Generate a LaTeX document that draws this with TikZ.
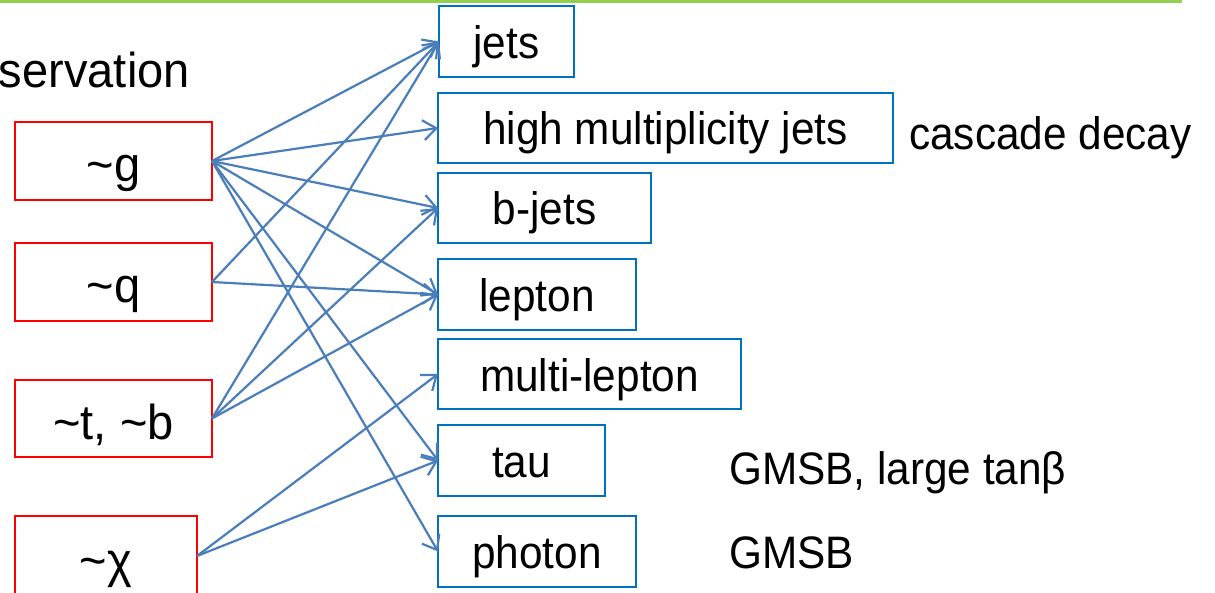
\documentclass[tikz,border=0pt]{standalone}
\usepackage{fontspec}
\setmainfont{Liberation Sans}
\newfontfamily\obsfont[FakeStretch=0.93]{Liberation Sans}
\newfontfamily\srcfont[FakeStretch=0.96]{Liberation Sans}
\usetikzlibrary{arrows.meta}
\definecolor{redbox}{RGB}{255,0,0}
\definecolor{bluebox}{RGB}{0,112,192}
\definecolor{arrowblue}{RGB}{74,126,187}
\definecolor{greenline}{RGB}{146,208,80}
\begin{document}
\begin{tikzpicture}[x=1pt,y=-1pt,
  srcbox/.style={draw=redbox, line width=2pt, inner sep=0pt, outer sep=0pt,
    font=\srcfont\fontsize{49}{58}\selectfont, text height=42pt, text depth=0pt,
    minimum width=197pt, minimum height=78pt},
  obsbox/.style={draw=bluebox, line width=2pt, inner sep=0pt, outer sep=0pt,
    font=\obsfont\fontsize{45.5}{54}\selectfont, text height=34pt, text depth=0pt,
    minimum height=70pt},
  note/.style={inner sep=0pt, font=\obsfont\fontsize{45.5}{54}\selectfont, anchor=base west},
  link/.style={draw=arrowblue, line width=2.2pt, -{Straight Barb[length=13pt,width=20pt]}},
]
\useasboundingbox (0,0) rectangle (1215,593);
\fill[white] (0,0) rectangle (1215,593);
% green rule
\coordinate (gl) at (0,1.2);
\coordinate (gr) at (1182,1.2);
\draw[greenline, line width=3pt] (gl) -- (gr);
% title fragment
\node[inner sep=0pt, anchor=base east, font=\srcfont\fontsize{49}{58}\selectfont] (title) at (190,88) {servation};
% source boxes
\node[srcbox] (g) at (113.5,161) {\char`\~g};
\node[srcbox] (q) at (113.5,282) {\char`\~q};
\node[srcbox, minimum height=77pt] (tb) at (113.5,418.5) {\char`\~t, \char`\~b};
\node[srcbox, minimum width=182pt, minimum height=80pt] (chi) at (106,556) {\char`\~χ};
% observation boxes
\node[obsbox, minimum width=135pt, minimum height=71pt] (jets) at (506.5,41.5) {jets};
\node[obsbox, minimum width=455pt] (hmj) at (665.5,128) {high multiplicity jets};
\node[obsbox, minimum width=213pt] (bjets) at (544.5,208) {b-jets};
\node[obsbox, minimum width=198pt, minimum height=71pt] (lep) at (537,294.5) {lepton};
\node[obsbox, minimum width=303pt] (mlep) at (589.5,374) {multi-lepton};
\node[obsbox, minimum width=167pt, minimum height=71pt] (tau) at (521.5,460.5) {tau};
\node[obsbox, minimum width=198pt, minimum height=71pt] (pho) at (537,551.5) {photon};
% notes
\node[note] (casc) at (909,150) {cascade decay};
\node[note] (gmsbt) at (729,484) {GMSB, large tanβ};
\node[note] (gmsb) at (729,568) {GMSB};
% connectors
\draw[link] (g.east) -- (jets.west);
\draw[link] (g.east) -- (hmj.west);
\draw[link] (g.east) -- (bjets.west);
\draw[link] (g.east) -- (lep.west);
\draw[link] (g.east) -- (tau.west);
\draw[link] (g.east) -- (pho.west);
\draw[link] (q.east) -- (jets.west);
\draw[link] (q.east) -- (lep.west);
\draw[link] (tb.east) -- (jets.west);
\draw[link] (tb.east) -- (bjets.west);
\draw[link] (tb.east) -- (lep.west);
\draw[link] (chi.east) -- (mlep.west);
\draw[link] (chi.east) -- (tau.west);
\end{tikzpicture}
\end{document}
